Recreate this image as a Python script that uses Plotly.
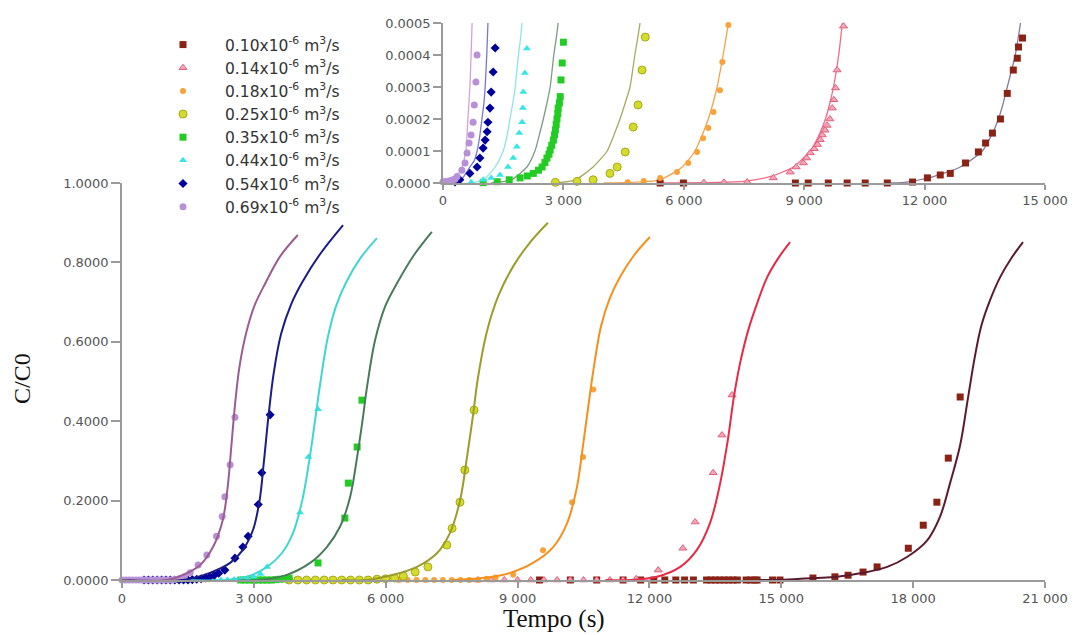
import plotly.graph_objects as go

# ---------------- series labels (flow rates) ----------------
labels = [
    "0.10x10<sup>-6</sup> m<sup>3</sup>/s",
    "0.14x10<sup>-6</sup> m<sup>3</sup>/s",
    "0.18x10<sup>-6</sup> m<sup>3</sup>/s",
    "0.25x10<sup>-6</sup> m<sup>3</sup>/s",
    "0.35x10<sup>-6</sup> m<sup>3</sup>/s",
    "0.44x10<sup>-6</sup> m<sup>3</sup>/s",
    "0.54x10<sup>-6</sup> m<sup>3</sup>/s",
    "0.69x10<sup>-6</sup> m<sup>3</sup>/s",
]

# ---------------- main chart: measured C/C0 ----------------
q010_t = [9500, 10200, 10800, 11400, 11800, 12100, 12350, 12600, 12800, 13000, 13300, 13400,
          13500, 13600, 13700, 13800, 13900, 14000, 14200, 14300, 14400, 14450, 14800, 14970,
          15720, 16220, 16520, 16860, 17180, 17890, 18230, 18540, 18800, 19070]
q010_c = [0, 0, 0, 0, 0, 0, 0, 0, 0, 0, 0, 0,
          0, 0, 0, 0, 0, 0, 0, 0, 0, 0, 0, 0,
          0.005, 0.008, 0.012, 0.020, 0.033, 0.080, 0.138, 0.196, 0.307, 0.461]

q014_t = [8100, 8400, 8700, 9000, 9300, 9600, 9900, 10200, 10500, 10800, 11100, 11400,
          11700, 12200, 12760, 13040, 13450, 13650, 13880]
q014_c = [0, 0, 0, 0, 0, 0, 0, 0, 0, 0, 0, 0,
          0.003, 0.025, 0.080, 0.146, 0.270, 0.365, 0.466]

q018_t = [6300, 6500, 6700, 6900, 7100, 7300, 7500, 7700, 7900, 8100, 8300, 8500,
          8900, 9580, 10240, 10490, 10720]
q018_c = [0, 0, 0, 0, 0, 0, 0, 0, 0, 0, 0.003, 0.006,
          0.013, 0.075, 0.196, 0.310, 0.480]

q025_t = [3800, 4000, 4200, 4400, 4600, 4800, 5000, 5200, 5400, 5600, 5800, 6000, 6200,
          6400, 6670, 6960, 7390, 7510, 7690, 7800, 8010]
q025_c = [0, 0, 0, 0, 0, 0, 0, 0, 0, 0, 0.002, 0.003, 0.005,
          0.010, 0.020, 0.033, 0.088, 0.130, 0.196, 0.277, 0.428]

q035_t = [2700, 2800, 2900, 3000, 3100, 3200, 3300, 3400, 3500, 3600, 3700, 3800,
          4460, 5070, 5150, 5350, 5460]
q035_c = [0, 0, 0, 0, 0, 0, 0, 0, 0.001, 0.002, 0.003, 0.005,
          0.043, 0.156, 0.244, 0.335, 0.453]

q044_t = [1800, 1950, 2100, 2250, 2400, 2550, 2700, 2850, 3000, 3150, 3300, 4050, 4240, 4460]
q044_c = [0, 0, 0, 0, 0, 0.001, 0.002, 0.004, 0.008, 0.015, 0.033, 0.170, 0.310, 0.430]

q054_t = [500, 600, 700, 800, 900, 1000, 1100, 1200, 1300, 1400, 1500, 1600, 1700, 1800,
          1900, 2000, 2100, 2200, 2340, 2570, 2750, 2870, 3100, 3180, 3370]
q054_c = [0, 0, 0, 0, 0, 0, 0, 0, 0, 0, 0, 0.001, 0.002, 0.003,
          0.005, 0.008, 0.012, 0.017, 0.025, 0.055, 0.083, 0.110, 0.190, 0.270, 0.416]

q069_t = [0, 80, 160, 240, 320, 400, 480, 560, 640, 720, 800, 880, 960, 1040, 1120,
          1200, 1300, 1420, 1550, 1730, 1930, 2150, 2280, 2340, 2460, 2570]
q069_c = [0, 0, 0, 0, 0, 0, 0, 0, 0, 0, 0, 0, 0, 0, 0,
          0.001, 0.003, 0.008, 0.018, 0.038, 0.063, 0.110, 0.160, 0.210, 0.290, 0.410]

# ---------------- main chart: fitted curves ----------------
f010_t = [14500, 14970, 15720, 16270, 16860, 17410, 17860, 18320, 18610, 18840, 19070, 19250,
          19400, 19550, 19750, 19980, 20230, 20500]
f010_c = [0, 0, 0.005, 0.008, 0.018, 0.033, 0.058, 0.100, 0.159, 0.244, 0.340, 0.460,
          0.560, 0.640, 0.705, 0.763, 0.810, 0.851]

f014_t = [11000, 11560, 12170, 12700, 13080, 13380, 13610, 13780, 13920, 14060, 14250, 14460,
          14680, 14940, 15200]
f014_c = [0, 0, 0.008, 0.033, 0.076, 0.144, 0.244, 0.350, 0.460, 0.545, 0.630, 0.700,
          0.763, 0.812, 0.851]

f018_t = [7500, 8210, 8830, 9350, 9810, 10130, 10350, 10490, 10600, 10720, 10900, 11100,
          11330, 11650, 12010]
f018_c = [0, 0.005, 0.018, 0.043, 0.083, 0.144, 0.234, 0.340, 0.430, 0.525, 0.640, 0.710,
          0.763, 0.818, 0.864]

f025_t = [5000, 5570, 6170, 6710, 7170, 7460, 7690, 7850, 7980, 8100, 8300, 8560,
          8900, 9280, 9690]
f025_c = [0, 0, 0.013, 0.033, 0.068, 0.118, 0.200, 0.310, 0.410, 0.510, 0.625, 0.715,
          0.790, 0.850, 0.900]

f035_t = [2500, 3140, 3750, 4280, 4660, 4960, 5190, 5350, 5470, 5580, 5760, 5990,
          6260, 6640, 7050]
f035_c = [0, 0, 0.013, 0.043, 0.083, 0.134, 0.209, 0.310, 0.400, 0.490, 0.605, 0.690,
          0.748, 0.818, 0.877]

f044_t = [1500, 2390, 2840, 3300, 3640, 3890, 4100, 4260, 4390, 4510, 4680, 4870,
          5100, 5420, 5800]
f044_c = [0, 0, 0.008, 0.033, 0.068, 0.118, 0.200, 0.300, 0.400, 0.495, 0.610, 0.690,
          0.750, 0.810, 0.861]

f054_t = [0, 1390, 2000, 2460, 2750, 2980, 3130, 3230, 3330, 3450, 3620, 3850,
          4100, 4500, 5030]
f054_c = [0, 0, 0.018, 0.043, 0.076, 0.126, 0.200, 0.300, 0.410, 0.520, 0.620, 0.695,
          0.750, 0.820, 0.894]

f069_t = [0, 1020, 1390, 1780, 2070, 2290, 2400, 2490, 2570, 2670, 2820, 3010,
          3250, 3590, 4000]
f069_c = [0, 0, 0.013, 0.038, 0.083, 0.150, 0.230, 0.340, 0.440, 0.535, 0.620, 0.690,
          0.745, 0.814, 0.869]

# ---------------- inset: early breakthrough (measured) ----------------
i010_t = [5410, 5990, 8780, 9100, 9600, 10070, 10520, 11070, 11700, 12070, 12390, 12640,
          13020, 13340, 13520, 13690, 13890, 14060, 14210, 14310, 14340, 14440]
i010_c = [0, 0, 0, 0, 0, 0, 0, 0, 0.000003, 0.000016, 0.000025, 0.00003,
          0.0000625, 0.000097, 0.000125, 0.000156, 0.0002, 0.00028, 0.000353, 0.00039,
          0.000425, 0.000453]

i014_t = [6500, 7000, 7580, 8230, 8650, 8800, 8980, 9060, 9150, 9250, 9330, 9400, 9450,
          9520, 9570, 9640, 9700, 9740, 9780, 9820, 9980]
i014_c = [0.000001, 0.000002, 0.000003, 0.000016, 0.000034, 0.00005, 0.0000625, 0.000078,
          0.000094, 0.000107, 0.00012, 0.000135, 0.00015, 0.000165, 0.00018, 0.0002,
          0.000234, 0.00026, 0.000297, 0.000353, 0.00049]

i018_t = [4600, 5000, 5410, 5830, 6110, 6330, 6480, 6610, 6740, 6900, 6960, 7110]
i018_c = [0.000002, 0.000006, 0.000016, 0.000034, 0.0000625, 0.000097, 0.00014, 0.000172,
          0.000222, 0.00029, 0.000378, 0.000494]

i025_t = [2800, 3340, 3740, 4160, 4340, 4540, 4740, 4860, 4960, 5040]
i025_c = [0.000002, 0.000005, 0.00001, 0.00003, 0.00005, 0.000097, 0.000175, 0.000244,
          0.000353, 0.000456]

i035_t = [1000, 1350, 1650, 1920, 2100, 2250, 2380, 2470, 2540, 2590, 2640, 2670, 2710,
          2750, 2780, 2800, 2820, 2840, 2860, 2870, 2900, 2920, 2940, 2970, 3000]
i035_c = [0.000001, 0.000004, 0.00001, 0.000016, 0.000022, 0.00003, 0.00004, 0.00005,
          0.000064, 0.000078, 0.00009, 0.000103, 0.000118, 0.000134, 0.00015, 0.000166,
          0.000183, 0.0002, 0.000217, 0.000234, 0.00025, 0.00027, 0.000322, 0.000375, 0.00044]

i044_t = [700, 1000, 1200, 1420, 1620, 1750, 1840, 1900, 1970, 1990, 2000, 2040, 2090]
i044_c = [0.000002, 0.00001, 0.000016, 0.000025, 0.00005, 0.000078, 0.000113, 0.000156,
          0.00019, 0.000234, 0.000284, 0.000344, 0.00042]

i054_t = [300, 420, 670, 850, 920, 1000, 1050, 1100, 1120, 1170, 1200, 1250, 1300]
i054_c = [0.000003, 0.00001, 0.00003, 0.00005, 0.000078, 0.000109, 0.000134, 0.00016,
          0.00019, 0.000234, 0.000284, 0.000347, 0.000422]

i069_t = [0, 50, 150, 200, 250, 300, 350, 470, 550, 600, 650, 700, 750, 780, 820, 850]
i069_c = [0.000004, 0.000005, 0.000006, 0.000008, 0.00001, 0.000012, 0.00002, 0.00004,
          0.0000625, 0.000094, 0.000125, 0.00015, 0.00019, 0.000244, 0.000316, 0.0004]

# ---------------- inset: fitted curves ----------------
j010_t = [11000, 11500, 12220, 12890, 13440, 13670, 13840, 13960, 14060, 14260, 14390]
j010_c = [0, 0.000002, 0.00002, 0.00005, 0.0001, 0.00015, 0.0002, 0.00025, 0.0003, 0.0004, 0.0005]

j014_t = [5400, 7500, 8150, 8730, 9150, 9370, 9530, 9640, 9730, 9860, 9950]
j014_c = [0, 0.000005, 0.00002, 0.00005, 0.0001, 0.00015, 0.0002, 0.00025, 0.0003, 0.0004, 0.0005]

j018_t = [4000, 5400, 5960, 6280, 6460, 6610, 6730, 6830, 6980, 7060, 7110]
j018_c = [0, 0.00001, 0.00005, 0.0001, 0.00015, 0.0002, 0.00025, 0.0003, 0.0004, 0.00046, 0.0005]

j025_t = [2800, 3300, 3740, 4090, 4260, 4410, 4540, 4660, 4780, 4860, 4910]
j025_c = [0, 0.00001, 0.00005, 0.0001, 0.00015, 0.0002, 0.00025, 0.0003, 0.0004, 0.00046, 0.0005]

j035_t = [1200, 1700, 2090, 2290, 2400, 2500, 2590, 2670, 2760, 2830, 2870]
j035_c = [0, 0.00001, 0.00005, 0.0001, 0.00015, 0.0002, 0.00025, 0.0003, 0.0004, 0.00046, 0.0005]

j044_t = [700, 1000, 1300, 1500, 1600, 1670, 1740, 1800, 1880, 1930, 1970]
j044_c = [0, 0.00001, 0.00005, 0.0001, 0.00015, 0.0002, 0.00025, 0.0003, 0.0004, 0.00045, 0.0005]

j054_t = [200, 450, 670, 780, 850, 920, 970, 1020, 1050, 1090, 1120]
j054_c = [0, 0.00001, 0.00005, 0.00007, 0.0001, 0.00015, 0.0002, 0.00025, 0.0003, 0.0004, 0.0005]

j069_t = [0, 200, 350, 450, 520, 570, 620, 670, 700, 725]
j069_c = [0.000005, 0.000012, 0.000025, 0.00004, 0.00007, 0.0001, 0.0002, 0.0003, 0.0004, 0.0005]

main_x_ticks = [0, 3000, 6000, 9000, 12000, 15000, 18000, 21000]
main_y_ticks = [0, 0.2, 0.4, 0.6, 0.8, 1.0]
inset_x_ticks = [0, 3000, 6000, 9000, 12000, 15000]
inset_y_ticks = [0, 0.0001, 0.0002, 0.0003, 0.0004, 0.0005]

# ---------------- styles ----------------
marker_styles = [
    dict(symbol="square", size=7, color="#8b2216", line=dict(width=0)),
    dict(symbol="triangle-up", size=7, color="#f6a5b6", line=dict(width=1, color="#e0607c")),
    dict(symbol="circle", size=6, color="#f8a23a", line=dict(width=0)),
    dict(symbol="circle", size=8, color="#d4dc2a", line=dict(width=1, color="#a8a818")),
    dict(symbol="square", size=7, color="#22cc22", line=dict(width=0)),
    dict(symbol="triangle-up", size=7, color="#36e6e6", line=dict(width=0)),
    dict(symbol="diamond", size=7, color="#00009c", line=dict(width=0)),
    dict(symbol="circle", size=7, color="#b890d6", line=dict(width=0)),
]
curve_colors = ["#5c1a2e", "#e62a48", "#f4901e", "#9c9c2c", "#4a7a5c", "#40d6d0", "#1c1c86", "#9c5c90"]
inset_curve_colors = ["#8a7a9a", "#f06a86", "#f2a24a", "#a8a860", "#7f9a84", "#8ee4e4", "#7878c8", "#d4a2d8"]

meas = [(q010_t, q010_c), (q014_t, q014_c), (q018_t, q018_c), (q025_t, q025_c),
        (q035_t, q035_c), (q044_t, q044_c), (q054_t, q054_c), (q069_t, q069_c)]
fits = [(f010_t, f010_c), (f014_t, f014_c), (f018_t, f018_c), (f025_t, f025_c),
        (f035_t, f035_c), (f044_t, f044_c), (f054_t, f054_c), (f069_t, f069_c)]
imeas = [(i010_t, i010_c), (i014_t, i014_c), (i018_t, i018_c), (i025_t, i025_c),
         (i035_t, i035_c), (i044_t, i044_c), (i054_t, i054_c), (i069_t, i069_c)]
ifits = [(j010_t, j010_c), (j014_t, j014_c), (j018_t, j018_c), (j025_t, j025_c),
         (j035_t, j035_c), (j044_t, j044_c), (j054_t, j054_c), (j069_t, j069_c)]

fig = go.Figure()

# measured points (main chart) carry the legend entries
for k in range(8):
    t, c = meas[k]
    fig.add_trace(go.Scatter(x=t, y=c, mode="markers", name=labels[k], marker=marker_styles[k],
                             cliponaxis=False, xaxis="x", yaxis="y", legendgroup=f"g{k}"))

# fitted curves (main chart)
for k in range(8):
    t, c = fits[k]
    fig.add_trace(go.Scatter(x=t, y=c, mode="lines", line=dict(color=curve_colors[k], width=2,
                             shape="spline", smoothing=1.0), showlegend=False,
                             xaxis="x", yaxis="y"))

# inset: curves then points
for k in range(8):
    t, c = ifits[k]
    fig.add_trace(go.Scatter(x=t, y=c, mode="lines", line=dict(color=inset_curve_colors[k], width=1.3,
                             shape="spline", smoothing=0.6), showlegend=False,
                             xaxis="x2", yaxis="y2"))
for k in range(8):
    t, c = imeas[k]
    fig.add_trace(go.Scatter(x=t, y=c, mode="markers", marker=marker_styles[k], showlegend=False,
                             cliponaxis=False, xaxis="x2", yaxis="y2"))

W, H = 1075, 635
tick_font = dict(family="DejaVu Sans", size=13, color="#555")
axis_common = dict(showgrid=False, zeroline=False, showline=True, linecolor="#9a9a9a", linewidth=1.5,
                   ticks="outside", tickcolor="#9a9a9a", tickwidth=1.5, tickfont=tick_font)

fig.update_layout(
    width=W, height=H,
    margin=dict(l=0, r=0, t=0, b=0),
    paper_bgcolor="white", plot_bgcolor="white",
    separators=". ",
    xaxis=dict(domain=[122 / W, 1045 / W], range=[0, 21000], tickvals=main_x_ticks,
               tickformat=",d", ticklen=6, anchor="y", automargin=False, **axis_common),
    yaxis=dict(domain=[1 - 580 / H, 1 - 183 / H], range=[0, 1.0], tickvals=main_y_ticks,
               tickformat=".4f", ticklen=9, anchor="x", automargin=False, **axis_common),
    xaxis2=dict(domain=[443 / W, 1045 / W], range=[0, 15000], tickvals=inset_x_ticks,
                tickformat=",d", ticklen=5, anchor="y2", automargin=False, **axis_common),
    yaxis2=dict(domain=[1 - 183 / H, 1 - 23 / H], range=[0, 0.0005], tickvals=inset_y_ticks,
                tickformat=".4f", ticklen=8, anchor="x2", automargin=False, **axis_common),
    legend=dict(x=141 / W, y=1 - 28 / H, xanchor="left", yanchor="top", bgcolor="rgba(0,0,0,0)",
                font=dict(family="DejaVu Sans", size=15.5, color="#333"), itemwidth=74,
                traceorder="normal", tracegroupgap=0),
    showlegend=True,
    annotations=[
        dict(text="C/C0", x=22 / W, y=1 - 378 / H, xref="paper", yref="paper", showarrow=False,
             xanchor="center", yanchor="middle",
             textangle=-90, font=dict(family="Liberation Serif", size=24, color="#111")),
        dict(text="Tempo (s)", x=554 / W, y=1 - 619 / H, xref="paper", yref="paper", showarrow=False,
             xanchor="center", yanchor="middle",
             font=dict(family="Liberation Serif", size=25, color="#111")),
    ],
)

fig.write_html("out.html")
